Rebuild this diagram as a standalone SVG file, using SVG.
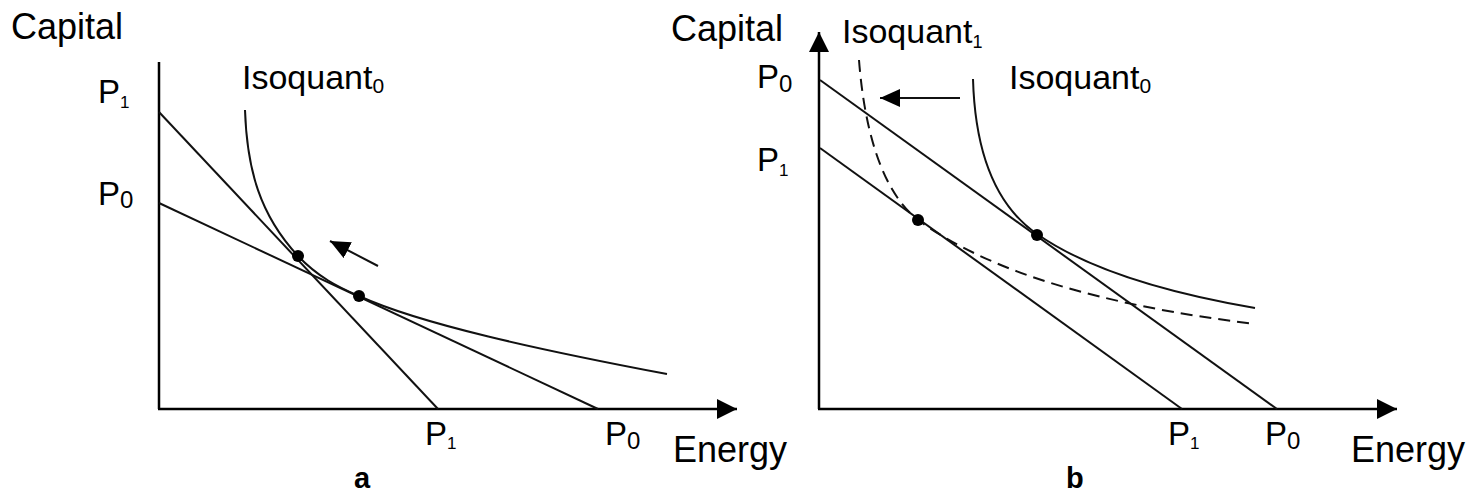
<svg xmlns="http://www.w3.org/2000/svg" width="1473" height="494" viewBox="0 0 1473 494">
<defs>
<style>
text{font-family:"Liberation Sans",Arial,sans-serif;fill:#000}
.lbl{font-size:36px}
.iso{font-size:34px}
.p{font-size:33px}
.cap{font-size:29px;font-weight:bold}
.axis{stroke:#000;stroke-width:2.5;fill:none}
.ln{stroke:#111;stroke-width:2;fill:none}
.dash{stroke:#111;stroke-width:2;fill:none;stroke-dasharray:12 7}
.dot{fill:#000}
</style>
<marker id="ah" markerUnits="userSpaceOnUse" markerWidth="20" markerHeight="20" viewBox="0 0 18 18" refX="18" refY="9" orient="auto">
<path d="M0,0 L18,9 L0,18 z" fill="#000"/>
</marker>
<marker id="ahs" markerUnits="userSpaceOnUse" markerWidth="20" markerHeight="18" viewBox="0 0 18 16" refX="18" refY="8" orient="auto">
<path d="M0,0 L18,8 L0,16 z" fill="#000"/>
</marker>
</defs>
<rect width="1473" height="494" fill="#fff"/>

<g id="panel-a">
<g id="a-axes">
<line class="axis" x1="159" y1="62" x2="159" y2="409"/>
<line class="axis" x1="158" y1="409" x2="737" y2="409" marker-end="url(#ah)"/>
</g>
<g id="a-connectors">
<line class="ln" x1="159" y1="112" x2="438" y2="409"/>
<line class="ln" x1="159" y1="203" x2="598" y2="409"/>
<path class="ln" d="M245,110 C247,170 260,215 298,256 C318,277 338,287 359,296 C420,324 540,350 667,374"/>
<line class="ln" x1="378" y1="266" x2="330" y2="241" marker-end="url(#ahs)"/>
</g>
<g id="a-dots">
<circle class="dot" cx="298" cy="256" r="6"/>
<circle class="dot" cx="359" cy="296" r="6"/>
</g>
<g id="a-labels">
<text class="lbl" x="11" y="39">Capital</text>
<text class="iso" x="242" y="89">Isoquant<tspan font-size="21" dy="4">0</tspan></text>
<text class="p" x="98" y="103">P<tspan font-size="17" dy="5">1</tspan></text>
<text class="p" x="98" y="205">P<tspan font-size="24" dy="3">0</tspan></text>
<text class="p" x="425" y="445">P<tspan font-size="17" dy="4">1</tspan></text>
<text class="p" x="605" y="445">P<tspan font-size="24" dy="4">0</tspan></text>
<text class="lbl" x="673" y="462">Energy</text>
<text class="cap" x="354" y="488">a</text>
</g>
</g>

<g id="panel-b">
<g id="b-axes">
<line class="axis" x1="819" y1="409" x2="819" y2="32" marker-end="url(#ah)"/>
<line class="axis" x1="818" y1="409" x2="1397" y2="409" marker-end="url(#ah)"/>
</g>
<g id="b-connectors">
<line class="ln" x1="820" y1="80" x2="1277" y2="409"/>
<line class="ln" x1="820" y1="148" x2="1182" y2="409"/>
<path class="ln" d="M973,79 C975,150 995,205 1037,234 C1080,264 1150,290 1255,308"/>
<path class="dash" d="M859,60 C864,125 880,190 918,220 C990,272 1100,305 1255,324"/>
<line class="ln" x1="960" y1="98" x2="880" y2="98" marker-end="url(#ahs)"/>
</g>
<g id="b-dots">
<circle class="dot" cx="918" cy="220" r="6"/>
<circle class="dot" cx="1037" cy="235" r="6"/>
</g>
<g id="b-labels">
<text class="lbl" x="671" y="41">Capital</text>
<text class="iso" x="842" y="43">Isoquant<tspan font-size="18" dy="5">1</tspan></text>
<text class="iso" x="1009" y="89">Isoquant<tspan font-size="21" dy="4">0</tspan></text>
<text class="p" x="757" y="88">P<tspan font-size="24" dy="4">0</tspan></text>
<text class="p" x="757" y="171">P<tspan font-size="17" dy="5">1</tspan></text>
<text class="p" x="1168" y="445">P<tspan font-size="17" dy="4">1</tspan></text>
<text class="p" x="1265" y="445">P<tspan font-size="24" dy="4">0</tspan></text>
<text class="lbl" x="1351" y="462">Energy</text>
<text class="cap" x="1066" y="488">b</text>
</g>
</g>
</svg>
